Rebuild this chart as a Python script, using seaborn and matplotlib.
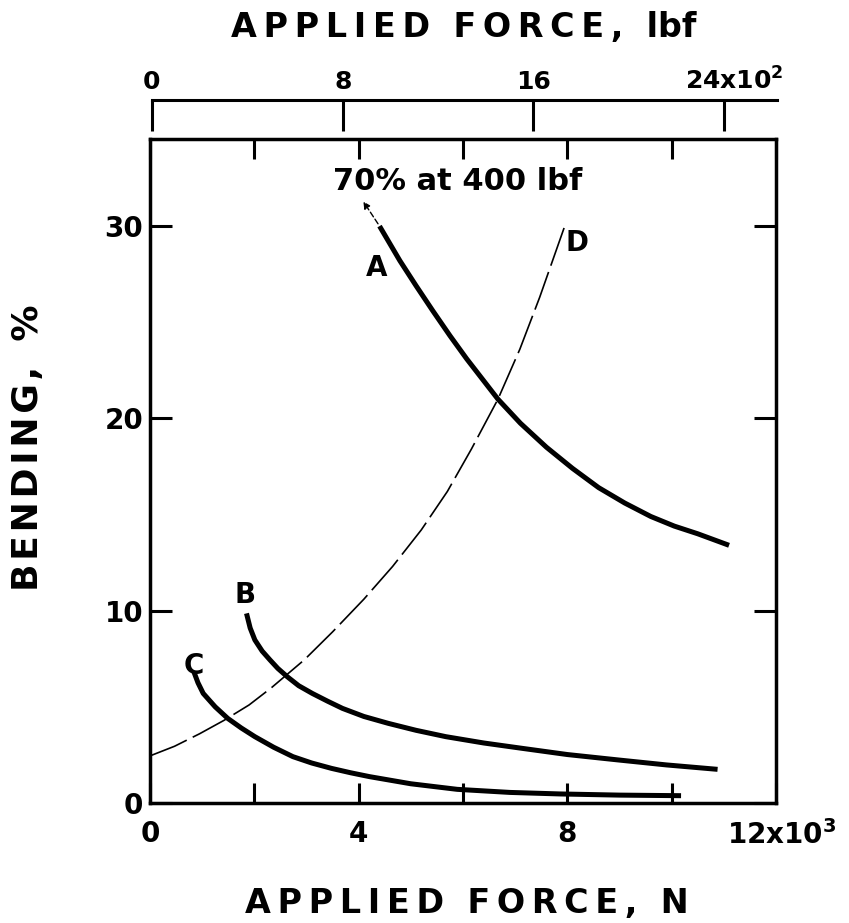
import numpy as np
import pandas as pd
import matplotlib
matplotlib.use('Agg')
import matplotlib.pyplot as plt
import matplotlib.transforms as mtransforms
import seaborn as sns

# curve data (force in 10^3 N, bending in %)
a_force = [4.40, 4.79, 5.10, 5.42, 5.75, 6.07, 6.37, 6.67, 7.10, 7.60, 8.10, 8.60,
           9.10, 9.60, 10.05, 10.50, 11.10]
a_bend = [30.0, 28.2, 26.9, 25.6, 24.3, 23.1, 22.05, 21.0, 19.75, 18.5, 17.4, 16.4,
          15.6, 14.9, 14.4, 14.0, 13.4]

b_force = [1.85, 1.92, 2.01, 2.15, 2.30, 2.45, 2.63, 2.85, 3.11, 3.40, 3.69, 4.10,
           4.57, 5.10, 5.67, 6.40, 7.14, 8.00, 8.97, 9.90, 10.88]
b_bend = [9.86, 9.10, 8.48, 7.90, 7.44, 7.00, 6.57, 6.10, 5.70, 5.30, 4.92, 4.50,
          4.14, 3.78, 3.45, 3.12, 2.84, 2.52, 2.24, 1.98, 1.75]

c_force = [0.84, 0.92, 1.02, 1.25, 1.49, 1.75, 2.01, 2.37, 2.74, 3.10, 3.48, 3.85,
           4.21, 5.00, 5.89, 6.90, 7.87, 9.00, 10.18]
c_bend = [6.83, 6.25, 5.70, 5.00, 4.40, 3.90, 3.45, 2.90, 2.41, 2.08, 1.80, 1.57,
          1.37, 1.00, 0.71, 0.55, 0.47, 0.41, 0.38]

d_force = [0.0, 0.47, 0.95, 1.42, 1.90, 2.33, 2.96, 3.50, 4.10, 4.65, 5.20, 5.70,
           6.16, 6.67, 7.09, 7.47, 7.95]
d_bend = [2.45, 2.95, 3.60, 4.30, 5.10, 6.00, 7.45, 8.90, 10.60, 12.30, 14.20, 16.20,
          18.40, 21.00, 23.60, 26.30, 30.00]

# curve labels and their positions
curve_names = ['A', 'B', 'C', 'D']
label_x = [4.35, 1.82, 0.84, 8.18]
label_y = [27.8, 10.8, 7.1, 29.1]

# arrow for curve A going off scale
arrow_start = (4.40, 30.0)
arrow_end = (4.06, 31.4)
arrow_text = '70% at 400 lbf'

# axis ticks
n_ticks = [0, 2, 4, 6, 8, 10, 12]
n_labels = ['0', '', '4', '', '8', '', r'12x10$^\mathbf{3}$']
bend_ticks = [0, 10, 20, 30]
bend_labels = ['0', '10', '20', '30']
lbf_ticks = [0, 8, 16, 24]
lbf_labels = ['0', '8', '16', r'24x10$^\mathbf{2}$']

sns.set_theme(style='ticks')
plt.rcParams['font.family'] = ['DejaVu Sans']
plt.rcParams['font.weight'] = 'bold'
for key in ['text.color', 'axes.labelcolor', 'xtick.color', 'ytick.color', 'axes.edgecolor']:
    plt.rcParams[key] = 'black'

fig = plt.figure(figsize=(8.49, 9.23), dpi=100)
W, H = 849, 923

# main axes
ax = fig.add_axes([150 / W, (H - 803) / H, 626 / W, 664 / H])
for xs, ys in [(a_force, a_bend), (b_force, b_bend), (c_force, c_bend)]:
    df = pd.DataFrame({'force': xs, 'bend': ys})
    sns.lineplot(data=df, x='force', y='bend', ax=ax, color='black', lw=3.6,
                 sort=False, estimator=None, solid_capstyle='butt',
                 solid_joinstyle='round')
df_d = pd.DataFrame({'force': d_force, 'bend': d_bend})
sns.lineplot(data=df_d, x='force', y='bend', ax=ax, color='black', lw=1.2,
             sort=False, estimator=None, linestyle=(0, (24, 4)))

ax.annotate('', xy=arrow_end, xytext=arrow_start,
            arrowprops=dict(arrowstyle='-|>', color='black', lw=1.0,
                            linestyle=(0, (4, 2)), mutation_scale=10))
ax.text(3.5, 31.9, arrow_text, fontsize=22, fontweight='bold', va='baseline', ha='left')

for name, lx, ly in zip(curve_names, label_x, label_y):
    ax.text(lx, ly, name, fontsize=20, fontweight='bold', ha='center', va='center')

ax.set_xlim(0, 12)
ax.set_ylim(0, 34.53)
ax.set_xticks(n_ticks)
ax.set_xticklabels(n_labels)
ax.set_yticks(bend_ticks)
ax.set_yticklabels(bend_labels)
ax.set_xlabel('')
ax.set_ylabel('')
ax.tick_params(axis='x', which='both', bottom=True, top=True, direction='in',
               length=14.4, width=2.2, pad=12, labelsize=20)
ax.tick_params(axis='y', which='both', left=True, right=True, direction='in',
               length=15.8, width=2.2, pad=5, labelsize=20)
for s in ax.spines.values():
    s.set_linewidth(2.5)

off = mtransforms.ScaledTranslation(-0.49, 0, fig.dpi_scale_trans)
lab = ax.get_xticklabels()[-1]
lab.set_horizontalalignment('left')
lab.set_transform(lab.get_transform() + off)

# upper lbf scale
ax2 = fig.add_axes([152 / W, (H - 100) / H - 0.02, 625 / W, 0.02])
ax2.set_facecolor('none')
ax2.set_xlim(0, 26.22)
ax2.set_yticks([])
for side in ['left', 'right', 'bottom']:
    ax2.spines[side].set_visible(False)
ax2.spines['top'].set_linewidth(2.2)
ax2.xaxis.tick_top()
ax2.set_xticks(lbf_ticks)
ax2.set_xticklabels(lbf_labels)
ax2.tick_params(axis='x', direction='in', length=22, width=2.2, pad=4, labelsize=18)
off2 = mtransforms.ScaledTranslation(-0.39, 0, fig.dpi_scale_trans)
lab2 = ax2.get_xticklabels()[-1]
lab2.set_horizontalalignment('left')
lab2.set_transform(lab2.get_transform() + off2)

# titles
ts = '\u2009'
fig.text(467 / W, (H - 913) / H, ts.join('APPLIED') + '  ' + ts.join('FORCE,') + '  N',
         fontsize=24, fontweight='bold', ha='center', va='baseline')
fig.text(464 / W, (H - 37) / H, ts.join('APPLIED') + '  ' + ts.join('FORCE,') + '  lbf',
         fontsize=24, fontweight='bold', ha='center', va='baseline')
fig.text(28 / W, (H - 448) / H, '\u200a'.join('BENDING,') + '  %',
         fontsize=26, fontweight='bold', ha='center', va='center', rotation=90)

fig.savefig('out.png', dpi=100, facecolor='white')
